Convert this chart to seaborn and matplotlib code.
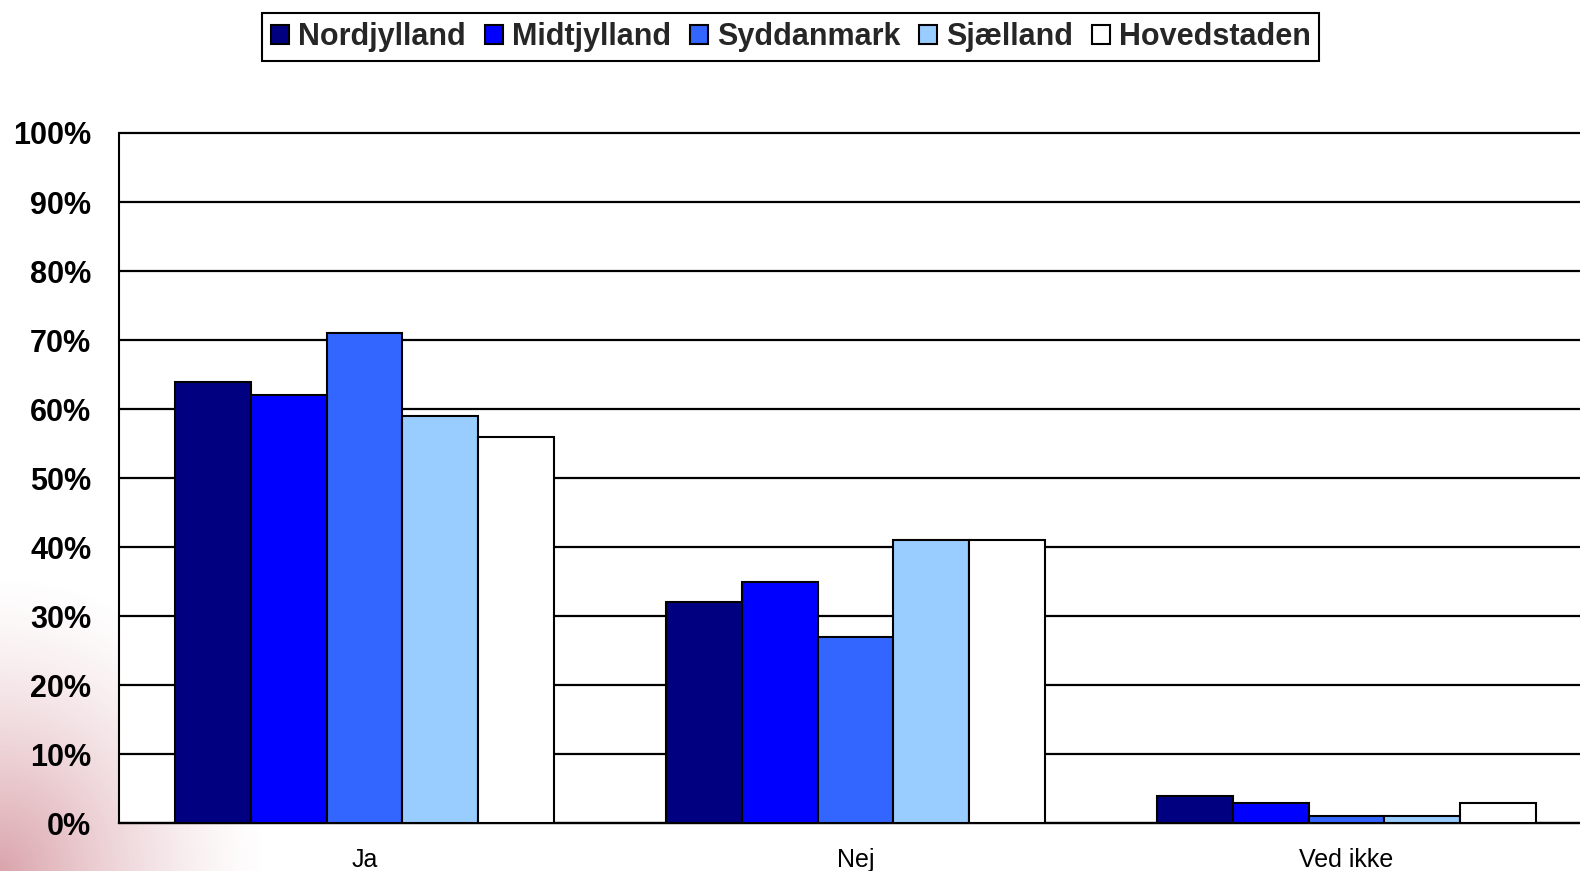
import numpy as np
import pandas as pd
import matplotlib
matplotlib.use("Agg")
import matplotlib.pyplot as plt
import seaborn as sns
from matplotlib.patches import Patch
from matplotlib.ticker import FixedLocator, FuncFormatter

categories = ["Ja", "Nej", "Ved ikke"]
regions = ["Nordjylland", "Midtjylland", "Syddanmark", "Sjælland", "Hovedstaden"]
nordjylland = [64, 32, 4]
midtjylland = [62, 35, 3]
syddanmark = [71, 27, 1]
sjaelland = [59, 41, 1]
hovedstaden = [56, 41, 3]
colors = ["#000080", "#0000FF", "#3366FF", "#99CCFF", "#FFFFFF"]
y_ticks = [0, 10, 20, 30, 40, 50, 60, 70, 80, 90, 100]

series = [nordjylland, midtjylland, syddanmark, sjaelland, hovedstaden]
rows = []
for r, vals in zip(regions, series):
    for c, v in zip(categories, vals):
        rows.append({"cat": c, "region": r, "val": v})
df = pd.DataFrame(rows)

sns.set_theme(style="white")
plt.rcParams["font.family"] = ["Liberation Sans", "DejaVu Sans"]

W, H = 1580, 871
fig = plt.figure(figsize=(W / 100, H / 100), dpi=100)
fig.patch.set_facecolor("white")

# background gradient (bottom-left reddish glow)
bg = fig.add_axes([0, 0, 1, 1], zorder=-10)
yy, xx = np.mgrid[0:H, 0:W]
d = np.sqrt((xx / 270.0) ** 2 + ((H - yy) / 300.0) ** 2)
a = np.clip(1 - d, 0, 1) ** 1.4 * 0.65
img = np.ones((H, W, 4))
img[..., 0] = 0.78
img[..., 1] = 0.45
img[..., 2] = 0.50
img[..., 3] = a
bg.imshow(img, aspect="auto", extent=[0, 1, 0, 1], interpolation="bilinear")
bg.set_axis_off()

left = 119 / W
bottom = 1 - 823.3 / H
top = 1 - 133 / H
width = 3 * 491 / W
ax = fig.add_axes([left, bottom, width, top - bottom])
ax.set_facecolor("white")

sns.barplot(data=df, x="cat", y="val", hue="region", hue_order=regions,
            order=categories, palette=colors, width=0.77,
            edgecolor="black", linewidth=1.5, saturation=1,
            legend=False, ax=ax, zorder=3)

ax.set_xlim(-0.5, 2.5)
ax.set_ylim(0, 100)
ax.set_yticks(y_ticks)
ax.yaxis.set_major_formatter(FuncFormatter(lambda v, p: f"{int(v)}%"))
ax.yaxis.grid(True, color="black", linewidth=1.6, zorder=0)
ax.set_axisbelow(True)
for gl in ax.get_ygridlines():
    gl.set_clip_on(False)
for s in ["top", "right"]:
    ax.spines[s].set_visible(False)
ax.spines["left"].set_color("black")
ax.spines["left"].set_linewidth(1.5)
ax.spines["bottom"].set_color("black")
ax.spines["bottom"].set_linewidth(1.6)

ax.tick_params(axis="y", which="major", direction="out", length=7, width=1.5,
               color="black", pad=13, labelsize=22)
for t in ax.get_yticklabels():
    t.set_fontweight("bold")
    t.set_color("black")

ax.set_xticks(range(len(categories)))
ax.set_xticklabels(categories)
ax.tick_params(axis="x", which="major", length=0, pad=18, labelsize=18, labelcolor="black")
ax.xaxis.set_minor_locator(FixedLocator([0.5, 1.5]))
ax.tick_params(axis="x", which="minor", direction="out", length=6, width=1.2, color="black")
ax.set_xlabel("")
ax.set_ylabel("")

handles = [Patch(facecolor=c, edgecolor="black", linewidth=1.5) for c in colors]
leg = fig.legend(handles, regions, loc="center", bbox_to_anchor=(0.5006, 1 - 37 / H),
                 ncol=5, frameon=True, fancybox=False,
                 prop={"weight": "bold", "size": 22},
                 handlelength=0.6, handleheight=0.6, handletextpad=0.3,
                 columnspacing=0.6, borderpad=0.28)
leg.get_frame().set_edgecolor("black")
leg.get_frame().set_linewidth(1.5)
leg.get_frame().set_facecolor("white")
leg.get_frame().set_alpha(1)

fig.savefig("out.png", dpi=100)
